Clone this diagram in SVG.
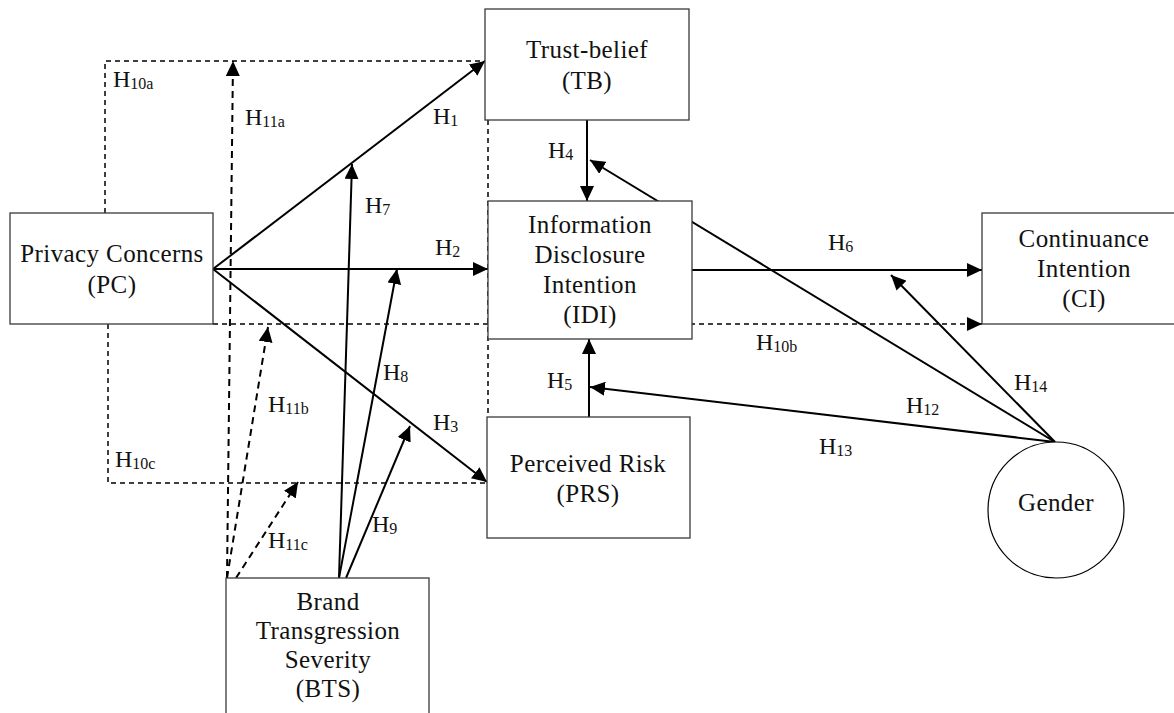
<svg xmlns="http://www.w3.org/2000/svg" width="1174" height="713" viewBox="0 0 1174 713">
  <style>
    text { font-family: "Liberation Serif", "Times New Roman", serif; fill: #111; }
    .node-text { font-size: 25px; letter-spacing: 0.4px; text-anchor: middle; }
    .lab { font-size: 24px; }
    .sub { font-size: 16px; }
    .box { fill: #fff; stroke: #3a3a3a; stroke-width: 1.3; }
    .solid { fill: none; stroke: #000; stroke-width: 2; }
    .dash { fill: none; stroke: #000; stroke-width: 1.5; stroke-dasharray: 5 4; }
    .dash-thick { fill: none; stroke: #000; stroke-width: 2; stroke-dasharray: 7 5; }
  </style>
  <defs>
    <marker id="arrow" viewBox="0 0 15 14" refX="15" refY="7" markerWidth="15" markerHeight="14" markerUnits="userSpaceOnUse" orient="auto">
      <path d="M0,0 L15,7 L0,14 z" fill="#000"/>
    </marker>
  </defs>

  <rect width="1174" height="713" fill="#fff"/>

  <!-- connectors -->
  <g id="connectors">
    <!-- moderating / mediating dashed paths -->
    <polyline class="dash" points="105,213 105,61 485,61"/>
    <line class="dash" x1="488" y1="120" x2="488" y2="417"/>
    <line class="dash" x1="213" y1="324" x2="982" y2="324" marker-end="url(#arrow)"/>
    <polyline class="dash" points="108,324 108,483 487,483"/>
    <line class="dash-thick" x1="227" y1="578" x2="233" y2="61" marker-end="url(#arrow)"/>
    <line class="dash-thick" x1="227" y1="578" x2="268" y2="327" marker-end="url(#arrow)"/>
    <line class="dash-thick" x1="236" y1="578" x2="298" y2="482" marker-end="url(#arrow)"/>

    <!-- direct paths -->
    <line class="solid" x1="213" y1="269" x2="485" y2="61" marker-end="url(#arrow)"/>
    <line class="solid" x1="213" y1="269" x2="488" y2="269" marker-end="url(#arrow)"/>
    <line class="solid" x1="213" y1="269" x2="487" y2="482" marker-end="url(#arrow)"/>
    <line class="solid" x1="587" y1="120" x2="587" y2="201" marker-end="url(#arrow)"/>
    <line class="solid" x1="589" y1="417" x2="589" y2="339" marker-end="url(#arrow)"/>
    <line class="solid" x1="692" y1="270" x2="982" y2="270" marker-end="url(#arrow)"/>

    <!-- brand transgression severity paths -->
    <line class="solid" x1="339" y1="578" x2="352" y2="164" marker-end="url(#arrow)"/>
    <line class="solid" x1="339" y1="578" x2="397" y2="269" marker-end="url(#arrow)"/>
    <line class="solid" x1="346" y1="578" x2="410" y2="426" marker-end="url(#arrow)"/>

    <!-- gender paths -->
    <line class="solid" x1="1055" y1="442" x2="590" y2="160" marker-end="url(#arrow)"/>
    <line class="solid" x1="1055" y1="442" x2="590" y2="387" marker-end="url(#arrow)"/>
    <line class="solid" x1="1055" y1="442" x2="891" y2="275" marker-end="url(#arrow)"/>
  </g>

  <!-- path labels -->
  <g id="labels">
    <text class="lab" x="113" y="87">H<tspan class="sub" dy="2">10a</tspan></text>
    <text class="lab" x="245" y="125">H<tspan class="sub" dy="2">11a</tspan></text>
    <text class="lab" x="433" y="124">H<tspan class="sub" dy="2">1</tspan></text>
    <text class="lab" x="365" y="213">H<tspan class="sub" dy="2">7</tspan></text>
    <text class="lab" x="435" y="255">H<tspan class="sub" dy="2">2</tspan></text>
    <text class="lab" x="548" y="158">H<tspan class="sub" dy="2">4</tspan></text>
    <text class="lab" x="383" y="380">H<tspan class="sub" dy="2">8</tspan></text>
    <text class="lab" x="268" y="412">H<tspan class="sub" dy="2">11b</tspan></text>
    <text class="lab" x="433" y="430">H<tspan class="sub" dy="2">3</tspan></text>
    <text class="lab" x="115" y="467">H<tspan class="sub" dy="2">10c</tspan></text>
    <text class="lab" x="372" y="532">H<tspan class="sub" dy="2">9</tspan></text>
    <text class="lab" x="268" y="548">H<tspan class="sub" dy="2">11c</tspan></text>
    <text class="lab" x="547" y="388">H<tspan class="sub" dy="2">5</tspan></text>
    <text class="lab" x="828" y="250">H<tspan class="sub" dy="2">6</tspan></text>
    <text class="lab" x="756" y="350">H<tspan class="sub" dy="2">10b</tspan></text>
    <text class="lab" x="906" y="413">H<tspan class="sub" dy="2">12</tspan></text>
    <text class="lab" x="819" y="454">H<tspan class="sub" dy="2">13</tspan></text>
    <text class="lab" x="1014" y="390">H<tspan class="sub" dy="2">14</tspan></text>
  </g>

  <!-- constructs -->
  <g id="node-pc">
    <rect class="box" x="10" y="213" width="203" height="111"/>
    <text class="node-text" x="112" y="262">Privacy Concerns</text>
    <text class="node-text" x="112" y="293">(PC)</text>
  </g>
  <g id="node-tb">
    <rect class="box" x="485" y="9" width="204" height="111"/>
    <text class="node-text" x="587" y="58">Trust-belief</text>
    <text class="node-text" x="587" y="89">(TB)</text>
  </g>
  <g id="node-idi">
    <rect class="box" x="488" y="201" width="204" height="138"/>
    <text class="node-text" x="590" y="233">Information</text>
    <text class="node-text" x="590" y="263">Disclosure</text>
    <text class="node-text" x="590" y="293">Intention</text>
    <text class="node-text" x="590" y="323">(IDI)</text>
  </g>
  <g id="node-ci">
    <rect class="box" x="982" y="213" width="220" height="111"/>
    <text class="node-text" x="1084" y="247">Continuance</text>
    <text class="node-text" x="1084" y="277">Intention</text>
    <text class="node-text" x="1084" y="307">(CI)</text>
  </g>
  <g id="node-prs">
    <rect class="box" x="487" y="417" width="203" height="121"/>
    <text class="node-text" x="588" y="472">Perceived Risk</text>
    <text class="node-text" x="588" y="502">(PRS)</text>
  </g>
  <g id="node-bts">
    <rect class="box" x="226" y="578" width="203" height="150"/>
    <text class="node-text" x="328" y="610">Brand</text>
    <text class="node-text" x="328" y="639">Transgression</text>
    <text class="node-text" x="328" y="668">Severity</text>
    <text class="node-text" x="328" y="697">(BTS)</text>
  </g>
  <g id="node-gender">
    <ellipse class="box" cx="1056" cy="510" rx="68" ry="68" style="stroke:#000; stroke-width:1.2"/>
    <text class="node-text" x="1056" y="511">Gender</text>
  </g>
</svg>
